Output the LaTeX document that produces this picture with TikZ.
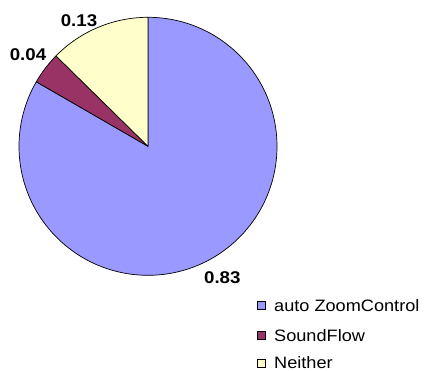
\documentclass[tikz,border=0pt]{standalone}
\usepackage{fontspec}
\setmainfont[FakeStretch=1.1]{Liberation Sans}
\definecolor{zoomblue}{HTML}{9999FF}
\definecolor{soundmaroon}{HTML}{993366}
\definecolor{neitheryellow}{HTML}{FFFFCC}
\begin{document}
\begin{tikzpicture}[
  slice/.style={draw=black, line width=0.7pt, line join=round},
  vallabel/.style={font=\fontsize{17}{20}\selectfont\bfseries, inner sep=0pt},
  legtext/.style={font=\fontsize{16.5}{20}\selectfont, inner sep=0pt, anchor=base west},
  legbox/.style={draw=black, line width=0.6pt, minimum size=8pt, inner sep=0pt}
]
\useasboundingbox (0pt,0pt) rectangle (425pt,-371pt);
\coordinate (c) at (148pt,-146.3pt);
\def\R{129pt}
\filldraw[slice, fill=zoomblue] (c) -- ++(90:\R) arc[start angle=90, end angle=-210, radius=\R] -- cycle;
\filldraw[slice, fill=soundmaroon] (c) -- ++(150:\R) arc[start angle=150, end angle=135.5, radius=\R] -- cycle;
\filldraw[slice, fill=neitheryellow] (c) -- ++(135.5:\R) arc[start angle=135.5, end angle=90, radius=\R] -- cycle;
\node[vallabel] (l13) at (79pt,-21pt) {0.13};
\node[vallabel] (l04) at (28pt,-54.7pt) {0.04};
\node[vallabel] (l83) at (222.3pt,-277.5pt) {0.83};
\node[legbox, fill=zoomblue] (b1) at (261pt,-305pt) {};
\node[legbox, fill=soundmaroon] (b2) at (261pt,-335pt) {};
\node[legbox, fill=neitheryellow] (b3) at (261pt,-363.5pt) {};
\node[legtext] (t1) at (274pt,-311.7pt) {auto ZoomControl};
\node[legtext] (t2) at (274pt,-341.5pt) {SoundFlow};
\node[legtext] (t3) at (274pt,-368pt) {Neither};
\end{tikzpicture}
\end{document}
